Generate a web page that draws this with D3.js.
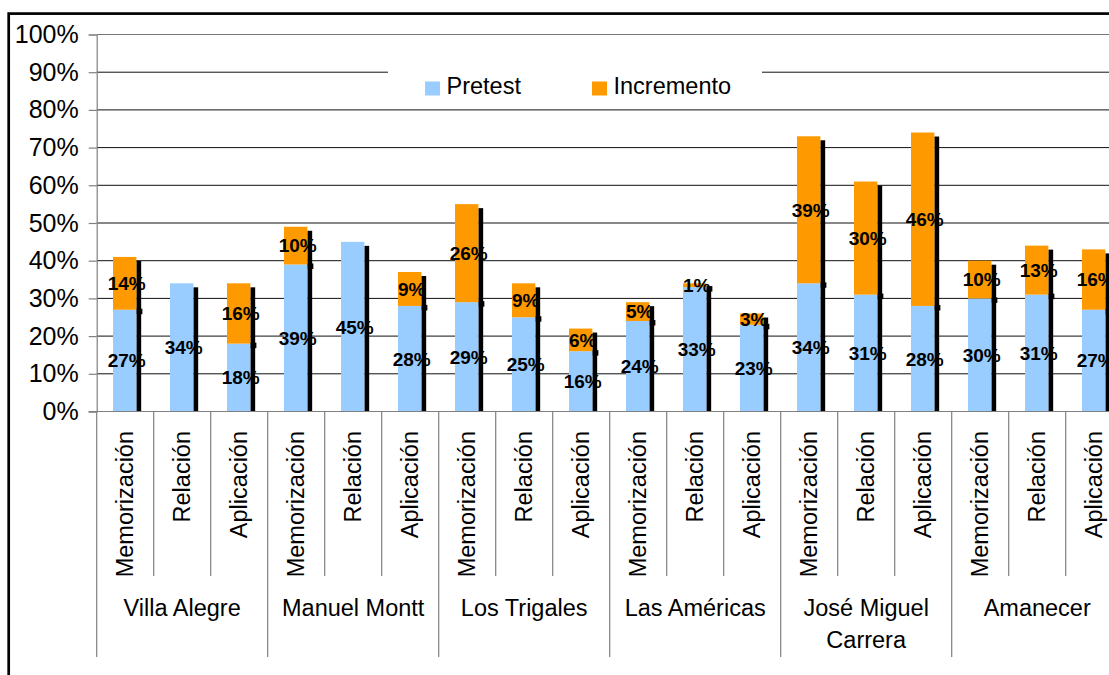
<!DOCTYPE html>
<html>
<head>
<meta charset="utf-8">
<script src="https://cdn.jsdelivr.net/npm/d3@7"></script>
<style>
  html, body { margin: 0; padding: 0; background: #fff; overflow: hidden; }
  svg { display: block; font-family: Arial, "Liberation Sans", sans-serif; }
</style>
</head>
<body>
<svg id="chart" width="1109" height="675"></svg>
<script>
// Schools (outer category level) and skills (inner level)
const schools = ["Villa Alegre", "Manuel Montt", "Los Trigales", "Las Américas", "José Miguel Carrera", "Amanecer"];
const skills = ["Memorización", "Relación", "Aplicación"];

// Percentages per school x skill, in the order of the schools above
const pretest    = [27, 34, 18,  39, 45, 28,  29, 25, 16,  24, 33, 23,  34, 31, 28,  30, 31, 27];
const incremento = [14,  0, 16,  10,  0,  9,  26,  9,  6,   5,  1,  3,  39, 30, 46,  10, 13, 16];

const seriesNames = ["Pretest", "Incremento"];
const seriesColors = ["#99CCFF", "#FF9900"];
const yTickValues = [0, 10, 20, 30, 40, 50, 60, 70, 80, 90, 100];

const svg = d3.select("#chart");

// Outer chart frame (runs off the right and bottom edges)
svg.append("rect")
  .attr("x", 8.7).attr("y", 13.6)
  .attr("width", 1300).attr("height", 800)
  .attr("fill", "#fff").attr("stroke", "#000").attr("stroke-width", 2.7);

const plotLeft = 96.7, plotRight = 1122.7, plotTop = 34.5, plotBottom = 411.5;

const rows = [];
schools.forEach((s, gi) => skills.forEach((k, ki) => {
  const i = gi * skills.length + ki;
  rows.push({ i, school: s, skill: k, pre: pretest[i], inc: incremento[i] });
}));

const x = d3.scaleBand().domain(rows.map(d => d.i)).range([plotLeft, plotRight]).paddingInner(0).paddingOuter(0);
const y = d3.scaleLinear().domain([0, 100]).range([plotBottom, plotTop]);

const bw = x.bandwidth();
const barOff = bw * 0.286, barW = bw * 0.41, shadowW = 4.8, shadowDrop = 4;

// Horizontal gridlines
svg.append("g").selectAll("line")
  .data(yTickValues.filter(v => v > 0))
  .join("line")
  .attr("x1", plotLeft).attr("x2", plotRight + 20)
  .attr("y1", d => y(d)).attr("y2", d => y(d))
  .attr("stroke", d => d === 100 ? "#777" : "#111").attr("stroke-width", 1);

// Y axis with percent labels
const yAxis = svg.append("g")
  .attr("transform", `translate(${plotLeft},0)`)
  .call(d3.axisLeft(y).tickValues(yTickValues).tickFormat(d => d + "%").tickSize(8).tickPadding(10));
yAxis.select(".domain").attr("stroke", "#808080").attr("stroke-width", 1.2);
yAxis.selectAll(".tick line").attr("stroke", "#808080").attr("stroke-width", 1.2);
yAxis.selectAll(".tick text")
  .attr("font-size", 25).attr("fill", "#000")
  .attr("font-family", "Arial, 'Liberation Sans', sans-serif");

// Legend (white box breaking the 90% gridline)
const legend = svg.append("g");
legend.append("rect").attr("x", 388).attr("y", 62).attr("width", 374).attr("height", 42).attr("fill", "#fff");
const legendX = [425, 592];
seriesNames.forEach((n, si) => {
  legend.append("rect")
    .attr("x", legendX[si]).attr("y", 81.5).attr("width", 15).attr("height", 14)
    .attr("fill", seriesColors[si]);
  legend.append("text")
    .attr("x", legendX[si] + 21.5).attr("y", 93.5)
    .attr("font-size", 23.5).attr("fill", "#000")
    .text(n);
});

// Bars: drop shadow first, then the two stacked segments
const bars = svg.append("g");
rows.forEach(d => {
  const left = x(d.i) + barOff;
  const top = y(d.pre + d.inc);
  bars.append("rect")
    .attr("x", left + barW).attr("y", top + shadowDrop)
    .attr("width", shadowW).attr("height", plotBottom - top - shadowDrop)
    .attr("fill", "#000");
  if (d.inc > 0) {
    bars.append("rect")
      .attr("x", left + barW).attr("y", y(d.pre) - 1)
      .attr("width", shadowW + 1.2).attr("height", 5.5)
      .attr("fill", "#000");
  }
  bars.append("rect")
    .attr("x", left).attr("y", y(d.pre))
    .attr("width", barW).attr("height", plotBottom - y(d.pre))
    .attr("fill", seriesColors[0]);
  if (d.inc > 0) {
    bars.append("rect")
      .attr("x", left).attr("y", y(d.pre + d.inc))
      .attr("width", barW).attr("height", y(d.pre) - y(d.pre + d.inc))
      .attr("fill", seriesColors[1]);
  }
});

// Value labels centred on each segment
const labels = svg.append("g")
  .attr("font-size", 19).attr("font-weight", "bold").attr("fill", "#000").attr("text-anchor", "middle");
rows.forEach(d => {
  const cx = x(d.i) + barOff + barW / 2 + 2;
  labels.append("text").attr("x", cx).attr("y", (y(0) + y(d.pre)) / 2).attr("dy", "0.36em").text(d.pre + "%");
  if (d.inc > 0) {
    labels.append("text").attr("x", cx).attr("y", (y(d.pre) + y(d.pre + d.inc)) / 2).attr("dy", "0.36em").text(d.inc + "%");
  }
});

// Zero line across the category axis
svg.append("line")
  .attr("x1", plotLeft - 8).attr("x2", plotRight + 20)
  .attr("y1", plotBottom).attr("y2", plotBottom)
  .attr("stroke", "#808080").attr("stroke-width", 1.2);

// Category separators: short ones between skills, long ones between schools
const sepG = svg.append("g").attr("stroke", "#808080").attr("stroke-width", 1.2);
d3.range(rows.length + 1).forEach(k => {
  const xx = k < rows.length ? x(k) : plotRight;
  const isGroup = k % skills.length === 0;
  sepG.append("line")
    .attr("x1", xx).attr("x2", xx)
    .attr("y1", plotBottom).attr("y2", isGroup ? 657 : 576);
});

// Skill labels, rotated
const skillG = svg.append("g").attr("font-size", 23.5).attr("fill", "#000");
rows.forEach(d => {
  const cx = x(d.i) + bw / 2;
  skillG.append("text")
    .attr("transform", `translate(${cx},431) rotate(-90)`)
    .attr("text-anchor", "end").attr("dy", "0.35em")
    .text(d.skill);
});

// School labels, wrapped when wider than their group
const schoolG = svg.append("g").attr("font-size", 23.5).attr("fill", "#000").attr("text-anchor", "middle");
schools.forEach((s, gi) => {
  const x0 = x(gi * skills.length);
  const x1 = gi === schools.length - 1 ? plotRight : x((gi + 1) * skills.length);
  const cx = (x0 + x1) / 2;
  const t = schoolG.append("text").attr("x", cx).attr("y", 616);
  const words = s.split(" ");
  let line = [];
  let tspan = t.append("tspan").attr("x", cx).attr("dy", 0);
  let lineNo = 0;
  words.forEach(w => {
    line.push(w);
    tspan.text(line.join(" "));
    if (tspan.node().getComputedTextLength() > (x1 - x0) - 6 && line.length > 1) {
      line.pop();
      tspan.text(line.join(" "));
      line = [w];
      lineNo += 1;
      tspan = t.append("tspan").attr("x", cx).attr("dy", 32).text(w);
    }
  });
});
</script>
</body>
</html>
